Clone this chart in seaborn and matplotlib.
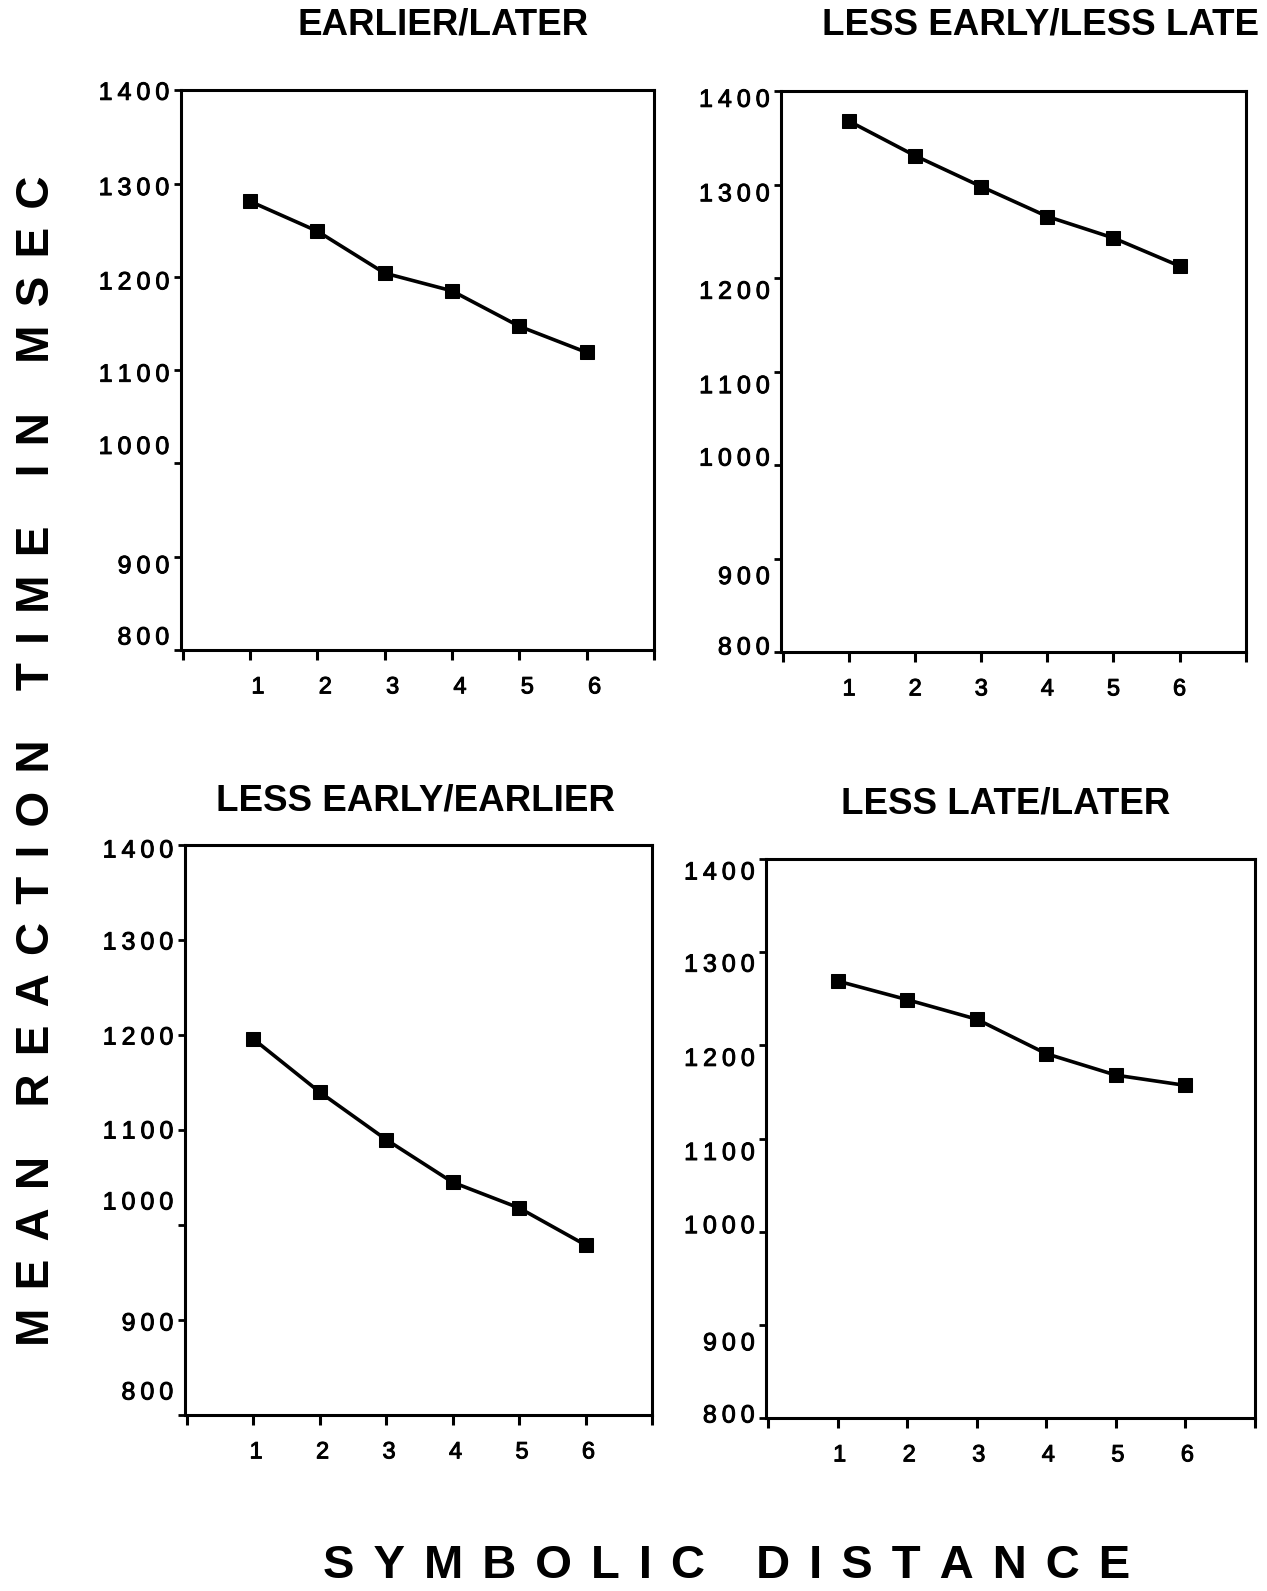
import matplotlib
matplotlib.use("Agg")
import matplotlib.pyplot as plt
import matplotlib.patheffects as pe
from matplotlib.transforms import ScaledTranslation
import numpy as np
import pandas as pd
import seaborn as sns

# ---- data -------------------------------------------------------------
distance = [1, 2, 3, 4, 5, 6]
earlier_later = [1281, 1249, 1204, 1185, 1147, 1119]
less_early_less_late = [1368, 1331, 1298, 1266, 1243, 1213]
less_early_earlier = [1196, 1140, 1090, 1045, 1018, 979]
less_late_later = [1269, 1249, 1228, 1191, 1168, 1157]

panel_titles = ["EARLIER/LATER", "LESS EARLY/LESS LATE",
                "LESS EARLY/EARLIER", "LESS LATE/LATER"]
panel_values = [earlier_later, less_early_less_late,
                less_early_earlier, less_late_later]

y_ticks = [800, 900, 1000, 1100, 1200, 1300, 1400]
x_ticks = [0, 1, 2, 3, 4, 5, 6, 7]
x_tick_labels = ["", "1", "2", "3", "4", "5", "6", ""]
y_label = "MEAN REACTION TIME IN MSEC"
x_label = "SYMBOLIC DISTANCE"

df = pd.concat(
    [pd.DataFrame({"distance": distance, "rt": vals, "condition": title})
     for title, vals in zip(panel_titles, panel_values)],
    ignore_index=True,
)

# ---- layout (pixels on a 1267 x 1591 canvas) ---------------------------
W, H = 1267, 1591
boxes = [  # left, top, right, bottom
    (180.6, 90.3, 654.0, 650.0),
    (781.0, 91.3, 1245.7, 652.0),
    (184.6, 845.0, 652.0, 1415.0),
    (766.0, 859.0, 1255.0, 1418.0),
]
title_pos = [(443, 25), (1040, 25), (415, 801), (1006, 804)]
# hand-set vertical nudges of the y tick labels (px, +down), 800..1400
ylabel_nudge = [
    [-15, 7, -19, 2, 3, 2, 0],
    [-7, 16, -9, 12, 11, 7, 6],
    [-25, 1, -25, -1, 0, 0, 3],
    [-5, 16, -8, 12, 11, 10, 11],
]
xlabel_nudge = [8, 0, 3, 2]

sns.set_style("white")
plt.rcParams["font.family"] = ["Liberation Sans", "DejaVu Sans"]

THIN = "\u2009"
ink = [pe.withStroke(linewidth=0.7, foreground="black")]


def spread(text, gap):
    return gap.join(text)


fig = plt.figure(figsize=(W / 100, H / 100), dpi=100)
fig.patch.set_facecolor("white")

for i, (title, box) in enumerate(zip(panel_titles, boxes)):
    l, t, r, b = box
    ax = fig.add_axes([l / W, 1 - b / H, (r - l) / W, (b - t) / H])
    sub = df[df["condition"] == title]
    sns.lineplot(data=sub, x="distance", y="rt", ax=ax, color="black",
                 linewidth=2.6, marker="s", markersize=10.5,
                 markeredgecolor="black", markerfacecolor="black",
                 errorbar=None)
    ax.set_xlim(-0.03, 7)
    ax.set_ylim(800, 1400)
    ax.set_xticks(x_ticks)
    ax.set_xticklabels(x_tick_labels, fontsize=17)
    ax.set_yticks(y_ticks)
    ax.set_yticklabels([spread(str(v), THIN) for v in y_ticks], fontsize=18)
    ax.set_xlabel("")
    ax.set_ylabel("")
    for side in ["left", "right", "top", "bottom"]:
        ax.spines[side].set_visible(True)
        ax.spines[side].set_color("black")
        ax.spines[side].set_linewidth(2.2)
    ax.tick_params(axis="x", direction="out", length=7, width=2.2,
                   pad=12, colors="black", bottom=True)
    ax.tick_params(axis="y", direction="out", length=5, width=2.0,
                   pad=3, colors="black", left=True)
    for lab, dy in zip(ax.get_yticklabels(), ylabel_nudge[i]):
        lab.set_transform(lab.get_transform() +
                          ScaledTranslation(0, -dy / 100, fig.dpi_scale_trans))
        lab.set_path_effects(ink)
    for lab in ax.get_xticklabels():
        lab.set_transform(lab.get_transform() +
                          ScaledTranslation(xlabel_nudge[i] / 100, 0,
                                            fig.dpi_scale_trans))
        lab.set_path_effects(ink)
    ax.grid(False)
    tx, ty = title_pos[i]
    fig.text(tx / W, 1 - ty / H, title, ha="center", va="center",
             fontsize=26.5, fontweight="bold", color="black")

wide = THIN * 2
fig.text(37.5 / W, 1 - 761 / H, spread(y_label, wide), rotation=90,
         ha="center", va="center", fontsize=33, fontweight="bold",
         color="black")
fig.text(727 / W, 1 - 1566 / H, spread(x_label, wide), ha="center",
         va="center", fontsize=34, fontweight="bold", color="black")

fig.savefig("out.png", dpi=100, facecolor="white")
